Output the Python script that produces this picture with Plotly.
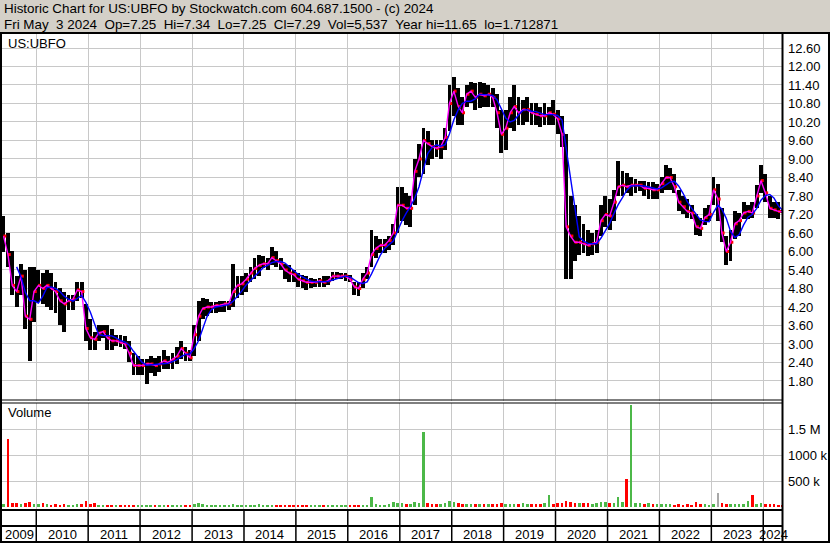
"""
Stockwatch style historic chart for US:UBFO (monthly bars read off the picture)
"""

import pandas as pd
import plotly.graph_objects as go

# ---- data -------------------------------------------------------------
start_month = "2009-05-01"      # first bar, one bar per month up to May 2024

price_high = [
    7.16, 6.6, 6.0, 5.2, 5.6, 5.4, 5.5, 5.5,
    5.4, 5.3, 5.4, 5.3, 5.0, 4.8, 4.7, 4.6, 4.6, 5.0, 5.0, 4.3,
    3.8, 3.4, 3.6, 3.6, 3.6, 3.5, 3.3, 3.3, 3.25, 3.1, 2.7, 2.6,
    2.5, 2.5, 2.6, 2.55, 2.6, 2.8, 2.6, 2.7, 2.9, 3.1, 2.9, 2.8,
    3.6, 4.4, 4.5, 4.45, 4.35, 4.35, 4.4, 4.4, 4.4, 5.6, 5.2, 5.2,
    5.3, 5.5, 5.8, 5.9, 5.85, 5.8, 6.16, 6.0, 5.8, 5.6, 5.55, 5.4,
    5.3, 5.25, 5.2, 5.15, 5.1, 5.15, 5.2, 5.2, 5.35, 5.35, 5.3, 5.3,
    5.25, 5.0, 5.0, 5.3, 5.5, 6.7, 6.5, 6.4, 6.4, 6.5, 6.9, 8.1,
    8.1, 7.9, 7.8, 9.0, 9.5, 10.0, 9.9, 9.6, 9.6, 9.6, 10.0, 11.4,
    11.65, 11.3, 11.0, 11.4, 11.5, 11.45, 11.5, 11.45, 11.4, 11.3, 11.1, 10.6,
    10.6, 11.0, 11.4, 11.0, 10.9, 11.0, 10.8, 10.8, 10.7, 10.8, 10.7, 10.9,
    10.6, 10.4, 9.8, 7.8, 7.5, 7.15, 6.9, 6.7, 6.6, 6.7, 7.5, 7.8,
    7.7, 8.0, 8.93, 8.6, 8.55, 8.4, 8.35, 8.3, 8.3, 8.25, 8.25, 8.2,
    8.4, 8.8, 8.7, 8.5, 8.0, 7.8, 7.7, 7.5, 7.2, 7.1, 7.4, 7.5,
    8.4, 8.2, 7.4, 6.5, 6.7, 7.3, 7.25, 7.6, 7.5, 7.6, 8.15, 8.79,
    8.5, 7.8, 7.6, 7.6, 7.34,
]

price_low = [
    5.97, 5.5, 4.6, 4.2, 4.6, 3.5, 2.45, 3.7,
    4.35, 4.3, 4.2, 4.1, 4.0, 3.6, 3.4, 4.1, 4.1, 4.4, 4.5, 3.1,
    2.8, 2.8, 3.1, 3.2, 2.8, 2.8, 2.95, 2.9, 2.85, 2.4, 2.0, 2.0,
    2.0, 1.7, 2.05, 1.95, 2.1, 2.2, 2.2, 2.2, 2.35, 2.5, 2.45, 2.45,
    2.6, 3.1, 3.8, 3.9, 4.0, 4.0, 4.05, 4.05, 4.1, 4.2, 4.5, 4.6,
    4.7, 5.0, 5.1, 5.2, 5.45, 5.4, 5.55, 5.5, 5.4, 5.1, 5.0, 5.0,
    4.85, 4.8, 4.75, 4.8, 4.85, 4.85, 4.85, 4.9, 5.05, 5.1, 5.1, 5.05,
    5.0, 4.6, 4.55, 4.8, 5.1, 5.5, 5.8, 5.95, 5.95, 6.05, 6.2, 6.6,
    7.0, 6.85, 6.8, 7.5, 8.4, 8.5, 8.8, 9.0, 9.05, 9.0, 9.3, 9.9,
    10.4, 10.1, 10.1, 10.7, 10.8, 10.6, 10.65, 10.7, 10.7, 10.7, 10.0, 9.2,
    9.3, 10.0, 9.9, 10.1, 10.1, 10.2, 10.1, 10.1, 10.05, 10.1, 10.1, 10.1,
    9.8, 9.4, 5.1, 5.1, 5.7, 5.9, 5.96, 5.85, 5.9, 5.95, 6.5, 6.8,
    6.7, 7.0, 7.8, 7.8, 7.9, 7.8, 7.9, 7.95, 7.8, 7.7, 7.7, 7.7,
    7.9, 8.0, 8.0, 7.9, 7.3, 7.2, 7.1, 7.05, 6.55, 6.5, 6.85, 7.0,
    7.5, 7.0, 6.3, 5.55, 5.7, 6.4, 6.5, 7.05, 7.05, 7.1, 7.4, 7.9,
    7.6, 7.1, 7.1, 7.05, 7.25,
]

price_close = [
    6.5, 5.9, 4.9, 4.7, 5.2, 3.9, 3.8, 4.7,
    4.9, 4.8, 4.9, 4.8, 4.7, 4.4, 4.3, 4.4, 4.45, 4.75, 4.7, 3.5,
    3.2, 3.15, 3.35, 3.4, 3.2, 3.1, 3.1, 3.05, 3.0, 2.7, 2.3, 2.3,
    2.3, 2.35, 2.35, 2.3, 2.35, 2.45, 2.4, 2.5, 2.6, 2.85, 2.7, 2.55,
    3.3, 3.9, 4.15, 4.2, 4.2, 4.25, 4.25, 4.3, 4.3, 4.7, 4.9, 4.95,
    5.1, 5.3, 5.45, 5.55, 5.6, 5.6, 5.8, 5.7, 5.6, 5.4, 5.3, 5.25,
    5.1, 5.05, 5.0, 5.0, 5.0, 5.05, 5.0, 5.05, 5.2, 5.2, 5.2, 5.2,
    5.1, 4.85, 4.8, 5.1, 5.3, 5.9, 6.1, 6.2, 6.2, 6.35, 6.6, 7.5,
    7.5, 7.4, 7.4, 8.6, 9.0, 9.6, 9.5, 9.4, 9.35, 9.4, 9.7, 10.8,
    11.2, 10.7, 10.5, 11.1, 11.2, 11.0, 11.1, 11.05, 11.1, 11.0, 10.5, 9.8,
    10.0, 10.5, 10.7, 10.5, 10.6, 10.6, 10.5, 10.45, 10.4, 10.4, 10.5, 10.45,
    10.3, 9.8, 6.8, 6.5, 6.3, 6.3, 6.25, 6.2, 6.25, 6.3, 7.0, 7.2,
    7.15, 7.6, 8.1, 8.15, 8.1, 8.15, 8.15, 8.15, 8.05, 8.05, 8.0, 8.0,
    8.2, 8.4, 8.4, 8.1, 7.6, 7.45, 7.3, 7.25, 6.8, 6.75, 7.1, 7.2,
    8.0, 7.7, 6.6, 6.0, 6.3, 6.9, 7.0, 7.25, 7.3, 7.25, 7.8, 8.3,
    7.9, 7.4, 7.35, 7.3, 7.29,
]

volume_k = [
    60, 1300, 70, 80, 60, 70, 100, 60,
    50, 70, 55, 45, 60, 40, 50, 45, 40, 60, 50, 110,
    50, 70, 40, 35, 40, 30, 35, 30, 40, 35, 45, 30,
    30, 35, 30, 25, 30, 30, 45, 25, 30, 35, 30, 30,
    60, 70, 50, 40, 35, 30, 35, 30, 35, 60, 40, 35,
    40, 45, 40, 50, 35, 40, 45, 35, 30, 40, 35, 30,
    30, 35, 30, 30, 25, 30, 30, 35, 30, 30, 35, 30,
    30, 40, 35, 40, 45, 190, 60, 40, 45, 50, 90, 80,
    70, 60, 50, 90, 80, 1440, 70, 50, 50, 60, 70, 110,
    90, 80, 60, 50, 60, 50, 60, 50, 55, 50, 60, 70,
    60, 50, 60, 50, 70, 60, 50, 60, 60, 70, 230, 60,
    70, 80, 120, 90, 80, 70, 70, 80, 60, 70, 90, 100,
    80, 80, 190, 90, 540, 1960, 70, 80, 60, 80, 60, 60,
    50, 60, 50, 40, 50, 40, 50, 40, 100, 50, 60, 40,
    60, 270, 70, 60, 50, 60, 60, 50, 115, 230, 60, 80,
    60, 50, 50, 40, 30,
]
unchanged_months = [165]        # grey volume bar (no change)

price_ticks = [1.80, 2.40, 3.00, 3.60, 4.20, 4.80, 5.40, 6.00, 6.60, 7.20,
               7.80, 8.40, 9.00, 9.60, 10.20, 10.80, 11.40, 12.00, 12.60]
volume_ticks = [500000, 1000000, 1500000]
volume_tick_text = ["500 k", "1000 k", "1.5 M"]
years = list(range(2009, 2025))

symbol = "US:UBFO"
header_line1 = "Historic Chart for US:UBFO by Stockwatch.com 604.687.1500 - (c) 2024"
header_line2 = ("Fri May  3 2024  Op=7.25  Hi=7.34  Lo=7.25  Cl=7.29  "
                "Vol=5,537  Year hi=11.65  lo=1.712871")

# ---- geometry ---------------------------------------------------------
W, H = 830, 543
FONT = "Liberation Sans, Arial, sans-serif"
GRID = "#C8C8C8"
X_RANGE = ["2009-05-05", "2024-05-19"]


def px(x):
    return x / W


def py(y):
    return 1 - y / H


n = len(price_close)
assert len(price_high) == n and len(price_low) == n and len(volume_k) == n

dates = pd.date_range(start_month, periods=n, freq="MS") + pd.Timedelta(days=15)
close = pd.Series(price_close)
avg_long = close.rolling(4).mean()
bar_len = [h - l for h, l in zip(price_high, price_low)]
volume = [v * 1000 for v in volume_k]

vol_colors = []
for i, c in enumerate(price_close):
    if i in unchanged_months:
        vol_colors.append("#A8A8A8")
    elif i > 0 and c < price_close[i - 1]:
        vol_colors.append("#FF0000")
    else:
        vol_colors.append("#4CB848")

day_ms = 86400000
year_starts = [pd.Timestamp(f"{y}-01-01") for y in years[1:]]

fig = go.Figure()

# price bars (high-low)
fig.add_trace(go.Bar(
    x=dates, y=bar_len, base=price_low,
    width=27 * day_ms,
    marker=dict(color="black", line=dict(width=0)),
    xaxis="x", yaxis="y", hoverinfo="skip"
))

# close ticks
fig.add_trace(go.Scatter(
    x=dates + pd.Timedelta(days=9), y=price_close,
    mode="markers",
    marker=dict(symbol="square", size=3, color="#FF0000", line=dict(width=0)),
    xaxis="x", yaxis="y", hoverinfo="skip"
))

# short average
fig.add_trace(go.Scatter(
    x=dates, y=price_close, mode="lines",
    line=dict(color="#FF00FF", width=1.4),
    xaxis="x", yaxis="y", hoverinfo="skip"
))

# long average
fig.add_trace(go.Scatter(
    x=dates, y=avg_long, mode="lines",
    line=dict(color="#0000FF", width=1.4),
    xaxis="x", yaxis="y", hoverinfo="skip"
))

# volume
fig.add_trace(go.Bar(
    x=dates, y=volume,
    width=18 * day_ms,
    marker=dict(color=vol_colors, line=dict(width=0)),
    xaxis="x2", yaxis="y2", hoverinfo="skip"
))

axis_common = dict(
    showgrid=True, gridcolor=GRID, gridwidth=1,
    zeroline=False, showline=False,
)

fig.update_layout(
    width=W, height=H,
    margin=dict(l=0, r=0, t=0, b=0),
    paper_bgcolor="white", plot_bgcolor="white",
    showlegend=False, bargap=0, barmode="overlay",
    font=dict(family=FONT, size=13, color="black"),
    xaxis=dict(
        domain=[px(2), px(783)], anchor="y", type="date", range=X_RANGE,
        tickvals=year_starts, showticklabels=False, ticks="", **axis_common
    ),
    xaxis2=dict(
        domain=[px(2), px(783)], anchor="y2", type="date", range=X_RANGE,
        matches="x", tickvals=year_starts, showticklabels=False, ticks="",
        **axis_common
    ),
    yaxis=dict(
        domain=[py(401), py(34)], range=[1.150, 13.054], side="right",
        tickvals=price_ticks, ticktext=[f"{t:.2f}" for t in price_ticks],
        ticks="", ticklabelstandoff=4,
        tickfont=dict(family=FONT, size=13, color="black"), **axis_common
    ),
    yaxis2=dict(
        domain=[py(510), py(403)], range=[-57700, 2000000], side="right",
        tickvals=volume_ticks, ticktext=volume_tick_text,
        ticks="", ticklabelstandoff=4,
        tickfont=dict(family=FONT, size=13, color="black"), **axis_common
    ),
)


def paper_line(x0, y0, x1, y1, width=2):
    fig.add_shape(type="line", xref="paper", yref="paper",
                  x0=px(x0), y0=py(y0), x1=px(x1), y1=py(y1),
                  line=dict(color="black", width=width), layer="above")


# header band
fig.add_shape(type="rect", xref="paper", yref="paper",
              x0=0, x1=1, y0=py(33), y1=1,
              fillcolor="#D4D0C8", line=dict(width=0), layer="below")

# frame
paper_line(0, 33, 830, 33)
paper_line(1, 33, 1, 543)
paper_line(829, 33, 829, 543)
paper_line(782.5, 33, 782.5, 542)
paper_line(0, 400, 783, 400, 1.2)
paper_line(0, 403, 783, 403, 1.2)
paper_line(0, 510, 783, 510)
paper_line(0, 526, 783, 526)
paper_line(0, 542, 830, 542)

# year separators in the date rows
for ys in year_starts:
    fig.add_shape(type="line", xref="x", yref="paper",
                  x0=ys, x1=ys, y0=py(510), y1=py(542),
                  line=dict(color="black", width=1.5), layer="above")

# year labels, centred in the visible part of each year
x_lo, x_hi = pd.Timestamp(X_RANGE[0]), pd.Timestamp(X_RANGE[1])
for y in years:
    a = max(pd.Timestamp(f"{y}-01-01"), x_lo)
    b = min(pd.Timestamp(f"{y + 1}-01-01"), x_hi)
    fig.add_annotation(x=a + (b - a) / 2, y=py(534), xref="x", yref="paper",
                       text=str(y), showarrow=False,
                       xanchor="center", yanchor="middle",
                       font=dict(family=FONT, size=13, color="black"))


def text_at(x, y, s, size=13):
    fig.add_annotation(x=px(x), y=py(y), xref="paper", yref="paper",
                       text=s.replace("  ", " \u00a0"), showarrow=False,
                       xanchor="left", yanchor="middle",
                       font=dict(family=FONT, size=size, color="black"))


text_at(2, 9, header_line1, 13.4)
text_at(2, 24, header_line2, 13.4)
text_at(6, 43, symbol)
text_at(6, 413, "Volume")

# the page itself must not add a margin around the 830x543 figure
fig.write_html(
    "out.html",
    config={"displayModeBar": False},
    post_script="document.body.style.margin='0';"
                "document.body.style.overflow='hidden';",
)
